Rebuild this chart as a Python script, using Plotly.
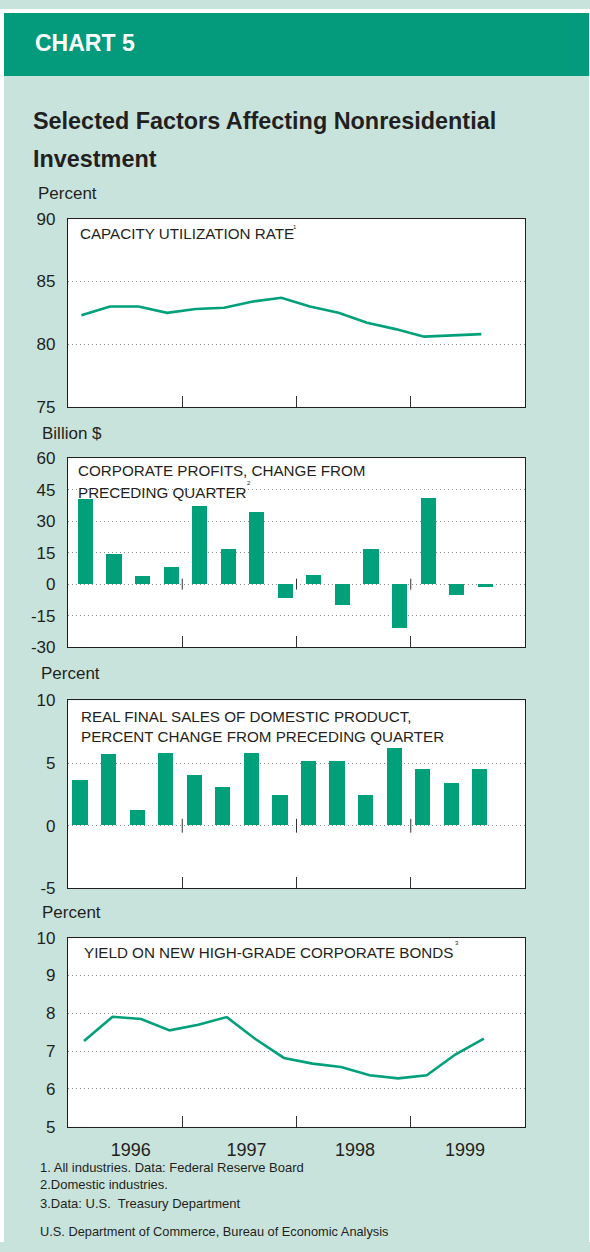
import plotly.graph_objects as go

# ---------------- data ----------------
quarters = ["1996Q1", "1996Q2", "1996Q3", "1996Q4",
            "1997Q1", "1997Q2", "1997Q3", "1997Q4",
            "1998Q1", "1998Q2", "1998Q3", "1998Q4",
            "1999Q1", "1999Q2", "1999Q3"]
capacity_util = [82.3, 83.0, 83.0, 82.5, 82.8, 82.9, 83.4, 83.7,
                 83.0, 82.5, 81.7, 81.2, 80.6, 80.7, 80.8]
profit_change = [40.3, 14.1, 3.6, 8.2, 37.0, 16.9, 34.2, -6.8,
                 4.4, -9.9, 16.5, -20.8, 41.2, -5.3, -1.6]
real_sales = [3.6, 5.7, 1.2, 5.8, 4.0, 3.1, 5.8, 2.4,
              5.1, 5.1, 2.4, 6.2, 4.5, 3.4, 4.5]
bond_yield = [7.27, 7.91, 7.85, 7.55, 7.70, 7.90, 7.32, 6.82,
              6.67, 6.58, 6.36, 6.28, 6.36, 6.91, 7.33]
year_labels = ["1996", "1997", "1998", "1999"]
year_label_pos = [2.2, 6.25, 10.05, 13.9]
year_dividers = [4, 8, 12]
y_ticks = [[75, 80, 85, 90], [-30, -15, 0, 15, 30, 45, 60], [-5, 0, 5, 10], [5, 6, 7, 8, 9, 10]]

# ---------------- style ----------------
W, H = 590, 1252
GREEN = "#039b7b"
BAR = "#00a07b"
LIGHT = "#c8e3dc"
INK = "#231f20"
SANS = "Liberation Sans, Arial, Helvetica, sans-serif"


def py(p):
    return 1 - p / H


def px(p):
    return p / W


xdom = [px(68), px(525)]
panels = [(213, 404), (456, 648), (702, 893), (943, 1135)]
offsets = [0.47, 0.61, 0.42, 0.56]

fig = go.Figure()

xpos = [[i + off for i in range(len(quarters))] for off in offsets]

fig.add_trace(go.Scatter(x=xpos[0], y=capacity_util, mode="lines",
                         line=dict(color=BAR, width=2.6), xaxis="x", yaxis="y",
                         showlegend=False, hoverinfo="skip"))
fig.add_trace(go.Bar(x=xpos[1], y=profit_change, width=0.53,
                     marker=dict(color=BAR, line=dict(width=0)),
                     xaxis="x2", yaxis="y2", showlegend=False, hoverinfo="skip"))
fig.add_trace(go.Bar(x=xpos[2], y=real_sales, width=0.53,
                     marker=dict(color=BAR, line=dict(width=0)),
                     xaxis="x3", yaxis="y3", showlegend=False, hoverinfo="skip"))
fig.add_trace(go.Scatter(x=xpos[3], y=bond_yield, mode="lines",
                         line=dict(color=BAR, width=2.6), xaxis="x4", yaxis="y4",
                         showlegend=False, hoverinfo="skip"))

layout = dict(
    width=W, height=H, margin=dict(l=0, r=0, t=0, b=0),
    paper_bgcolor=LIGHT, plot_bgcolor="white",
    bargap=0, showlegend=False,
)

for k in range(4):
    sx = "" if k == 0 else str(k + 1)
    top, bot = panels[k]
    xa = dict(domain=xdom, range=[0, 16], anchor="y" + sx,
              showgrid=False, zeroline=False, showline=True, mirror=True,
              linecolor=INK, linewidth=1.2,
              tickmode="array", tickvals=year_label_pos if k == 3 else [],
              ticktext=year_labels if k == 3 else [],
              ticks="", showticklabels=(k == 3),
              tickfont=dict(family=SANS, size=18, color=INK),
              ticklabelstandoff=7,
              minor=dict(tickmode="array", tickvals=year_dividers, ticks="inside",
                         ticklen=11, tickwidth=1, tickcolor="#333", showgrid=False),
              fixedrange=True)
    tv = y_ticks[k]
    ya = dict(domain=[py(bot), py(top)], range=[tv[0], tv[-1]], anchor="x" + sx,
              tickmode="array", tickvals=tv, ticktext=[str(v) for v in tv],
              showgrid=True, gridcolor="#8a8a8a", gridwidth=1, griddash="1px,3px",
              zeroline=False, showline=True, mirror=True,
              linecolor=INK, linewidth=1.2, ticks="",
              tickfont=dict(family=SANS, size=17, color=INK),
              ticklabelstandoff=8, fixedrange=True)
    layout["xaxis" + sx] = xa
    layout["yaxis" + sx] = ya

shapes = [
    # white page edge strips
    dict(type="rect", xref="paper", yref="paper", x0=0, x1=1, y0=py(4), y1=1,
         fillcolor="white", line=dict(width=0), layer="above"),
    dict(type="rect", xref="paper", yref="paper", x0=0, x1=px(4), y0=0, y1=1,
         fillcolor="white", line=dict(width=0), layer="above"),
    dict(type="rect", xref="paper", yref="paper", x0=px(589), x1=1, y0=0, y1=1,
         fillcolor="white", line=dict(width=0), layer="above"),
    # green header band
    dict(type="rect", xref="paper", yref="paper", x0=px(4), x1=px(589),
         y0=py(68), y1=py(4), fillcolor=GREEN, line=dict(width=0), layer="above"),
]
# year dividers crossing the zero line in the bar panels
for d in year_dividers:
    shapes.append(dict(type="line", xref="x2", yref="y2", x0=d, x1=d, y0=-2.6, y1=2.6,
                       line=dict(color="#333", width=1)))
    shapes.append(dict(type="line", xref="x3", yref="y3", x0=d, x1=d, y0=-0.55, y1=0.55,
                       line=dict(color="#333", width=1)))
layout["shapes"] = shapes


def ann(text, x, y, size, color=INK, bold=False, anchor="left"):
    if bold:
        text = "<b>" + text + "</b>"
    return dict(text=text, x=px(x), y=py(y), xref="paper", yref="paper",
                xanchor=anchor, yanchor="middle", showarrow=False,
                font=dict(family=SANS, size=size, color=color))


annotations = [
    ann("CHART 5", 33, 35, 23, color="white", bold=True),
    ann("Selected Factors Affecting Nonresidential", 31, 114, 23.4, bold=True),
    ann("Investment", 31, 152, 23.4, bold=True),
    ann("Percent", 36, 187, 17),
    ann("Billion $", 40, 431, 17),
    ann("Percent", 39, 675, 17),
    ann("Percent", 40, 917, 17),
    ann("CAPACITY UTILIZATION RATE", 78, 228, 15.2),
    ann("1", 291, 221, 6),
    ann("CORPORATE PROFITS, CHANGE FROM", 76, 469, 15.2),
    ann("PRECEDING QUARTER", 76, 491, 15.2),
    ann("2", 245, 481, 6),
    ann("REAL FINAL SALES OF DOMESTIC PRODUCT,", 79, 718, 15.2),
    ann("PERCENT CHANGE FROM PRECEDING QUARTER", 79, 739, 15.2),
    ann("YIELD ON NEW HIGH-GRADE CORPORATE BONDS", 82, 958, 15.2),
    ann("3", 453, 948, 6),
    ann("1. All industries. Data: Federal Reserve Board", 38, 1176, 13),
    ann("2.Domestic industries.", 38, 1194, 13),
    ann("3.Data: U.S.  Treasury Department", 38, 1213, 13),
    ann("U.S. Department of Commerce, Bureau of Economic Analysis", 38, 1241, 12.8),
]
layout["annotations"] = annotations

fig.update_layout(**layout)
fig.write_html("out.html", config=dict(displayModeBar=False),
               post_script="document.body.style.margin='0';document.body.style.overflow='hidden';")
